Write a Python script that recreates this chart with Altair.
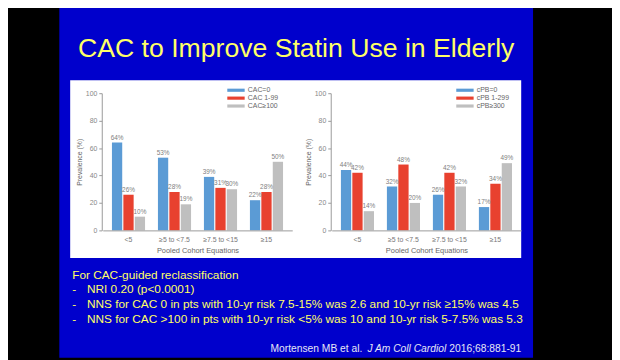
import altair as alt
import pandas as pd

# ---------------- data ----------------
categories = ["<5", "≥5 to <7.5", "≥7.5 to <15", "≥15"]

cac_series = ["CAC=0", "CAC 1-99", "CAC≥100"]
cac_zero = [64, 53, 39, 22]
cac_1_99 = [26, 28, 31, 28]
cac_100 = [10, 19, 30, 50]

cpb_series = ["cPB=0", "cPB 1-299", "cPB≥300"]
cpb_zero = [44, 32, 26, 17]
cpb_1_299 = [42, 48, 42, 34]
cpb_300 = [14, 20, 32, 49]

y_ticks = [0, 20, 40, 60, 80, 100]
bar_colors = ["#5b9bd5", "#e8412f", "#bfbfbf"]

title_text = "CAC to Improve Statin Use in Elderly"
bullet_head = "For CAC-guided reclassification"
bullet_lines = [
    "NRI 0.20 (p<0.0001)",
    "NNS for CAC 0 in pts with 10-yr risk 7.5-15% was 2.6 and 10-yr risk ≥15% was 4.5",
    "NNS for CAC >100 in pts with 10-yr risk <5% was 10 and 10-yr risk 5-7.5% was 5.3",
]
cite_authors = "Mortensen MB et al."
cite_journal = "J Am Coll Cardiol"
cite_ref = "2016;68:881-91"

# ---------------- layout constants ----------------
W, H = 612, 352
SLIDE_BLUE = "#0000cc"
YELLOW = "#ffff66"
CHART_FONT = "Liberation Sans"
SLIDE_FONT = "Liberation Sans"


def to_long(series, values):
    rows = []
    for s, vals in zip(series, values):
        for c, v in zip(categories, vals):
            rows.append({"cat": c, "series": s, "value": v, "label": f"{v}%"})
    return pd.DataFrame(rows)


def one(**kw):
    return pd.DataFrame([kw])


def panel(df, series, x_range, y_axis_x, legend_x):
    xs = alt.Scale(domain=categories, range=x_range, paddingInner=0.28, paddingOuter=0.2)
    ys = alt.Scale(domain=[0, 100], range=[223, 84], nice=False)
    xo = alt.Scale(domain=series, paddingInner=0.1)
    x = alt.X(
        "cat:N", scale=xs, sort=categories,
        axis=alt.Axis(
            orient="bottom",
            title="Pooled Cohort Equations", offset=-129, ticks=False, labelAngle=0,
            labelFont=CHART_FONT, labelFontSize=7, labelColor="#777", labelPadding=5,
            titleFont=CHART_FONT, titleFontSize=7.5, titleFontWeight="normal",
            titleColor="#666", titlePadding=4, domainColor="#999", grid=False,
            zindex=2,
        ),
    )
    y = alt.Y(
        "value:Q", scale=ys,
        axis=alt.Axis(
            orient="left",
            values=y_ticks, offset=-y_axis_x, title="Prevalence (%)", grid=False,
            labelFont=CHART_FONT, labelFontSize=7, labelColor="#888", labelPadding=2,
            tickSize=3, tickColor="#999", domainColor="#999",
            titleFont=CHART_FONT, titleFontSize=7, titleFontWeight="normal",
            titleColor="#666", titlePadding=3, zindex=2,
        ),
    )
    xoff = alt.XOffset("series:N", scale=xo, sort=series)
    color = alt.Color(
        "series:N", sort=series,
        scale=alt.Scale(domain=series, range=bar_colors),
        legend=alt.Legend(
            title=None, orient="none", legendX=legend_x, legendY=77,
            symbolType="M-2.2,-0.4L2.2,-0.4L2.2,0.4L-2.2,0.4Z", symbolSize=64,
            symbolStrokeWidth=0, labelFont=CHART_FONT, labelFontSize=7,
            labelColor="#666", rowPadding=1, labelOffset=8, zindex=2,
        ),
    )
    base = alt.Chart(df)
    bars = base.mark_bar().encode(x=x, xOffset=xoff, y=y, color=color)
    labels = base.mark_text(
        baseline="bottom", dy=-2, fontSize=6.5, font=CHART_FONT, color="#808080"
    ).encode(x=x, xOffset=xoff, y=y, text="label:N")
    return alt.layer(bars, labels)


cac_df = to_long(cac_series, [cac_zero, cac_1_99, cac_100])
cpb_df = to_long(cpb_series, [cpb_zero, cpb_1_299, cpb_300])

slide = alt.Chart(one(k=0)).mark_rect(color=SLIDE_BLUE).encode(
    x=alt.value(52), x2=alt.value(532), y=alt.value(-10), y2=alt.value(H)
)
white = alt.Chart(one(k=0)).mark_rect(color="white").encode(
    x=alt.value(63), x2=alt.value(520), y=alt.value(71), y2=alt.value(251)
)
title = alt.Chart(one(t=title_text)).mark_text(
    font=SLIDE_FONT, fontSize=27,
    color=YELLOW, align="center", baseline="alphabetic"
).encode(text="t:N", x=alt.value(292), y=alt.value(47))

head_block = "\n".join([bullet_head] + ["-"] * len(bullet_lines))
body_block = "\n".join([""] + bullet_lines)
bul_a = alt.Chart(one(t=head_block)).mark_text(
    font=SLIDE_FONT, fontSize=12, color=YELLOW, align="left",
    baseline="alphabetic", lineBreak="\n", lineHeight=14.8
).encode(text="t:N", x=alt.value(65), y=alt.value(272))
bul_b = alt.Chart(one(t=body_block)).mark_text(
    font=SLIDE_FONT, fontSize=12, color=YELLOW, align="left",
    baseline="alphabetic", lineBreak="\n", lineHeight=14.8
).encode(text="t:N", x=alt.value(80), y=alt.value(272))

cite_color = "#e6e6f5"
cite1 = alt.Chart(one(t=cite_authors)).mark_text(
    font=SLIDE_FONT, fontSize=10.4, color=cite_color, align="right", baseline="alphabetic"
).encode(text="t:N", x=alt.value(359), y=alt.value(346))
cite2 = alt.Chart(one(t=cite_journal)).mark_text(
    font=SLIDE_FONT, fontSize=10.4, fontStyle="italic", color=cite_color,
    align="right", baseline="alphabetic"
).encode(text="t:N", x=alt.value(444), y=alt.value(346))
cite3 = alt.Chart(one(t=cite_ref)).mark_text(
    font=SLIDE_FONT, fontSize=10.4, color=cite_color, align="right", baseline="alphabetic"
).encode(text="t:N", x=alt.value(520), y=alt.value(346))

left = panel(cac_df, cac_series, [96, 288], 95, 227)
right = panel(cpb_df, cpb_series, [328, 520], 327, 459)

chart = alt.layer(
    slide, white, title, bul_a, bul_b, cite1, cite2, cite3, left, right
).resolve_scale(
    x="independent", y="independent", color="independent", xOffset="independent"
).resolve_axis(
    x="independent", y="independent"
).resolve_legend(
    color="independent"
).properties(
    width=W, height=H, padding=0, background="black",
    autosize=alt.AutoSizeParams(type="none"),
).configure_view(strokeWidth=0)

chart.save("out.html", embed_options={"renderer": "svg", "actions": False})
